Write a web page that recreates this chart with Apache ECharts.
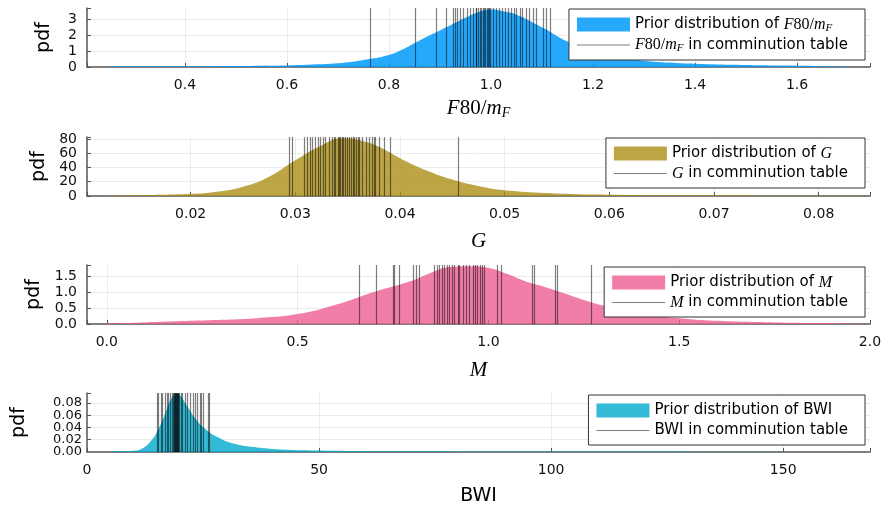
<!DOCTYPE html>
<html>
<head>
<meta charset="utf-8">
<script src="https://cdn.jsdelivr.net/npm/echarts@6/dist/echarts.min.js"></script>
<style>
  html, body { margin: 0; padding: 0; background: #fff; }
  #chartmain { width: 891px; height: 509px; }
</style>
</head>
<body>
<div id="chartmain"></div>
<script>
// F80/m_F
var f80X = [0.25, 0.3, 0.4, 0.5, 0.6, 0.65, 0.7, 0.75, 0.8, 0.825, 0.85, 0.875, 0.9, 0.95, 0.975, 1.0, 1.025, 1.05, 1.1, 1.15, 1.2, 1.25, 1.3, 1.35, 1.4, 1.5, 1.6, 1.73];
var f80Pdf = [0.03, 0.04, 0.05, 0.07, 0.1, 0.15, 0.23, 0.44, 0.75, 1.08, 1.5, 1.92, 2.3, 3.1, 3.45, 3.62, 3.5, 3.3, 2.5, 1.6, 1.0, 0.6, 0.4, 0.28, 0.2, 0.12, 0.08, 0.05];
var f80Table = [0.764, 0.851, 0.893, 0.912, 0.926, 0.930, 0.934, 0.939, 0.946, 0.953, 0.959, 0.965, 0.971, 0.972, 0.975, 0.978, 0.980, 0.984, 0.986, 0.988, 0.992, 0.995, 0.997, 0.999, 1.005, 1.010, 1.016, 1.023, 1.027, 1.034, 1.040, 1.045, 1.050, 1.057, 1.062, 1.069, 1.075, 1.083, 1.089, 1.102, 1.109, 1.116];

// G
var gX = [0.0122, 0.015, 0.02, 0.0225, 0.025, 0.0275, 0.03, 0.0325, 0.0345, 0.0365, 0.038, 0.04, 0.0425, 0.045, 0.0475, 0.05, 0.055, 0.06, 0.07, 0.084];
var gPdf = [0.5, 1, 3, 6, 13, 27, 50, 71, 81, 77, 69, 53, 36, 23, 14, 8, 3.5, 1.8, 0.9, 0.5];
var gTable = [0.02944, 0.02969, 0.03081, 0.03113, 0.03145, 0.03161, 0.03193, 0.03218, 0.03241, 0.03266, 0.03289, 0.03327, 0.03352, 0.03368, 0.03384, 0.0341, 0.03420, 0.03432, 0.03448, 0.0346, 0.03474, 0.03496, 0.03519, 0.03538, 0.0355, 0.0356, 0.03582, 0.03601, 0.03614, 0.0364, 0.03678, 0.0371, 0.03735, 0.03751, 0.03767, 0.03799, 0.03847, 0.03911, 0.04558];

// M
var mX = [0, 0.1, 0.2, 0.3, 0.4, 0.5, 0.6, 0.7, 0.8, 0.85, 0.9, 0.95, 1.0, 1.05, 1.1, 1.15, 1.2, 1.25, 1.3, 1.4, 1.5, 1.6, 1.75, 1.9, 2.0];
var mPdf = [0.02, 0.05, 0.09, 0.13, 0.19, 0.31, 0.6, 1.0, 1.35, 1.6, 1.78, 1.8, 1.75, 1.56, 1.32, 1.15, 0.95, 0.75, 0.58, 0.32, 0.18, 0.1, 0.05, 0.03, 0.02];
var mTable = [0.662, 0.706, 0.750, 0.754, 0.767, 0.804, 0.811, 0.819, 0.859, 0.865, 0.872, 0.878, 0.885, 0.891, 0.898, 0.905, 0.911, 0.920, 0.924, 0.933, 0.942, 0.950, 0.959, 0.966, 0.972, 0.978, 0.983, 0.990, 1.024, 1.033, 1.115, 1.119, 1.175, 1.181, 1.270];

// BWI
var bwiX = [5, 10, 12, 14, 15, 16, 17, 18, 19, 19.5, 20, 21, 22, 23, 25, 28, 32, 36, 40, 50, 70, 100, 130, 168];
var bwiPdf = [0.001, 0.002, 0.006, 0.02, 0.032, 0.047, 0.066, 0.085, 0.094, 0.095, 0.093, 0.082, 0.07, 0.058, 0.041, 0.025, 0.013, 0.008, 0.005, 0.0025, 0.0012, 0.0008, 0.0006, 0.0005];
var bwiTable = [15.2, 15.4, 15.9, 16.3, 16.8, 17.2, 17.5, 17.9, 18.3, 18.6, 18.8, 18.9, 19.0, 19.1, 19.2, 19.3, 19.4, 19.5, 19.6, 19.7, 19.9, 20.2, 20.6, 21.1, 21.6, 22.2, 22.9, 23.3, 23.8, 24.4, 24.7, 25.1, 26.1, 26.4];

// 数学符号 (rich text)
var mathF80 = "{mi|F}{mr|80/}{mi|m}{sub|F}";
var mathG = "{mi|G}";
var mathM = "{mi|M}";

var panels = [
  { x: f80X, y: f80Pdf, t: f80Table, top: 8, xMin: 0.208, xMax: 1.743, split: 8, xStep: 0.2, xDec: 1,
    yMax: 3.72, yStep: 1, yDec: 0, color: "rgba(0,154,250,0.85)", sym: mathF80, xName: mathF80, nameGap: 29, legTop: 9 },
  { x: gX, y: gPdf, t: gTable, top: 137, xMin: 0.0101, xMax: 0.0849, split: 7, xStep: 0.01, xDec: 2,
    yMax: 82.8, yStep: 20, yDec: 0, color: "rgba(172,142,24,0.8)", sym: mathG, xName: mathG, nameGap: 35, legTop: 138 },
  { x: mX, y: mPdf, t: mTable, top: 265, xMin: -0.052, xMax: 2.0, split: 4, xStep: 0.5, xDec: 1,
    yMax: 1.84, yStep: 0.5, yDec: 1, color: "rgba(237,94,147,0.8)", sym: mathM, xName: mathM, nameGap: 36, legTop: 267 },
  { x: bwiX, y: bwiPdf, t: bwiTable, top: 393, xMin: 0, xMax: 168.7, split: 3, xStep: 50, xDec: 0,
    yMax: 0.0963, yStep: 0.02, yDec: 2, color: "rgba(0,169,205,0.8)", sym: "BWI", xName: "BWI", nameGap: 35, legTop: 395 }
];

var lineColor = "rgba(0,0,0,0.5)";
var richMath = {
  mi: { fontFamily: "Liberation Serif", fontStyle: "italic", fontSize: 16, color: "#000" },
  mr: { fontFamily: "Liberation Serif", fontSize: 16, color: "#000" },
  sub: { fontFamily: "Liberation Serif", fontStyle: "italic", fontSize: 11, color: "#000", padding: [7, 0, 0, 0] }
};
var richBig = {
  mi: { fontFamily: "Liberation Serif", fontStyle: "italic", fontSize: 21, color: "#000" },
  mr: { fontFamily: "Liberation Serif", fontStyle: "normal", fontSize: 21, color: "#000" },
  sub: { fontFamily: "Liberation Serif", fontStyle: "italic", fontSize: 14, color: "#000", padding: [10, 0, 0, 0] }
};

function stepFormatter(step, dec) {
  return function(v) {
    var k = v / step;
    return Math.abs(k - Math.round(k)) < 1e-6 ? v.toFixed(dec) : "";
  };
}

function pairs(xs, ys) {
  return xs.map(function(x, i) { return [x, ys[i]]; });
}

var grid = [], xAxis = [], yAxis = [], series = [], legend = [];

for (var i = 0; i < panels.length; i++) {
  var p = panels[i];
  var crowded = i === 3; // BWI 面板的 y 刻度很挤
  grid.push({ left: 87, right: 21, top: p.top, height: 59 });

  xAxis.push({
    type: "value", gridIndex: i, min: p.xMin, max: p.xMax, splitNumber: p.split,
    axisLine: { show: true, onZero: false, lineStyle: { color: "#555", width: 1.5 } },
    axisTick: { show: true, inside: true, length: 4, lineStyle: { color: "#555" } },
    axisLabel: { formatter: stepFormatter(p.xStep, p.xDec), showMinLabel: true, showMaxLabel: true, fontSize: 14,
                 color: "#111", margin: 11, fontFamily: "DejaVu Sans" },
    splitLine: { show: true, showMinLine: false, showMaxLine: false, lineStyle: { color: "#ebebeb", width: 1 } },
    name: p.xName, nameLocation: "middle", nameGap: p.nameGap,
    nameTextStyle: i === 3
      ? { fontFamily: "DejaVu Sans", fontSize: 19, color: "#000" }
      : { fontFamily: "Liberation Serif", fontStyle: "italic", fontSize: 21, color: "#000", rich: richBig }
  });

  yAxis.push({
    type: "value", gridIndex: i, min: 0, max: p.yMax, interval: p.yStep,
    axisLine: { show: true, onZero: false, lineStyle: { color: "#555", width: 1.5 } },
    axisTick: { show: true, inside: true, length: 4, lineStyle: { color: "#555" } },
    axisLabel: { formatter: stepFormatter(p.yStep, p.yDec), showMinLabel: !crowded, hideOverlap: false,
                 fontSize: crowded ? 13 : 14, color: "#111",
                 margin: crowded ? 5 : 10, fontFamily: "DejaVu Sans" },
    splitLine: { show: true, showMinLine: false, showMaxLine: false, lineStyle: { color: "#ebebeb", width: 1 } },
    name: "pdf", nameLocation: "middle", nameRotate: 90, nameGap: crowded ? 58 : 33,
    nameTextStyle: { fontFamily: "DejaVu Sans", fontSize: 19, color: "#000" }
  });

  // 先验分布
  series.push({
    name: "p" + i, type: "line", xAxisIndex: i, yAxisIndex: i,
    data: pairs(p.x, p.y), smooth: 0.5,
    symbol: "none", showSymbol: false, color: p.color,
    lineStyle: { width: 0 }, areaStyle: { color: p.color, opacity: 1 },
    silent: true, animation: false
  });

  // 粉碎表中的值
  series.push({
    name: "t" + i, type: "line", xAxisIndex: i, yAxisIndex: i, data: [],
    symbol: "none", color: lineColor, lineStyle: { color: lineColor, width: 1.2 },
    markLine: {
      silent: true, symbol: ["none", "none"], label: { show: false }, precision: 6,
      lineStyle: { color: lineColor, width: 1.2, type: "solid" },
      emphasis: { disabled: true },
      data: p.t.map(function(v) { return { xAxis: v }; }),
      animation: false
    },
    animation: false
  });

  (function(p, i) {
    legend.push({
      orient: "vertical", right: 26, top: p.legTop,
      data: [{ name: "p" + i, icon: "rect" }, { name: "t" + i, icon: "path://M0,0H100V2.2H0Z" }],
      itemWidth: 53, itemHeight: 14, itemGap: 3,
      padding: [7, 17, 6, 8],
      borderColor: "#333", borderWidth: 1, borderRadius: 0, backgroundColor: "#fff",
      selectedMode: false,
      textStyle: { fontFamily: "DejaVu Sans", fontSize: 15, color: "#000", lineHeight: 17, rich: richMath },
      formatter: function(name) {
        if (name.charAt(0) === "p") return "Prior distribution of " + p.sym;
        return p.sym + " in comminution table";
      }
    });
  })(p, i);
}

// BWI 面板: 单独的轴只显示 "0.00"
yAxis.push({
  type: "value", gridIndex: 3, position: "left", min: 0, max: panels[3].yMax, interval: panels[3].yStep,
  axisLine: { show: false }, axisTick: { show: false }, splitLine: { show: false },
  axisLabel: { formatter: function(v) { return v === 0 ? "0.00" : ""; }, showMinLabel: true,
               fontSize: 13, color: "#111", margin: 5, fontFamily: "DejaVu Sans" }
});

var option = {
  animation: false,
  textStyle: { fontFamily: "DejaVu Sans" },
  grid: grid, xAxis: xAxis, yAxis: yAxis, legend: legend, series: series
};

var myChart = echarts.init(document.getElementById("chartmain"));
myChart.setOption(option);
</script>
</body>
</html>
